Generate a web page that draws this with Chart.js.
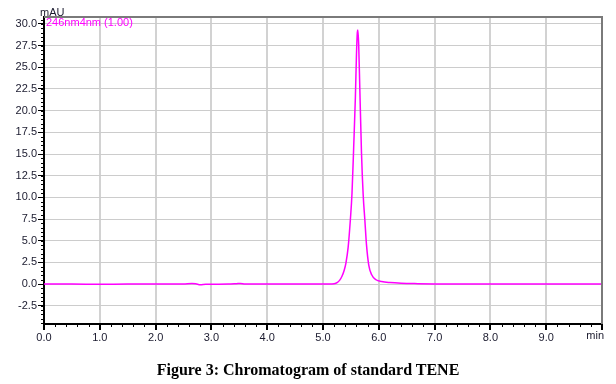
<!DOCTYPE html>
<html lang="en">
<head>
    <meta charset="UTF-8">
    <title>Chromatogram of standard TENE</title>
    <script src="https://cdn.jsdelivr.net/npm/chart.js"></script>
    <style>
        body {
            margin: 0;
            background-color: #ffffff;
            width: 616px;
            height: 384px;
            position: relative;
            overflow: hidden;
        }
        #wrap {
            position: absolute;
            left: 0;
            top: 0;
            width: 616px;
            height: 384px;
        }
        .caption {
            position: absolute;
            left: 0;
            width: 616px;
            top: 361px;
            text-align: center;
            font-family: "Liberation Serif", "Times New Roman", serif;
            font-weight: bold;
            font-size: 16px;
            color: #000;
        }
    </style>
</head>
<body>
    <div id="wrap"><canvas id="chromChart" width="616" height="384"></canvas></div>
    <div class="caption">Figure 3: Chromatogram of standard TENE</div>

    <script>
        // temps de rétention (min) et absorbance (mAU)
        const timeMin = [0, 0.5, 1.0, 1.5, 2.0, 2.5, 2.65, 2.72, 2.8, 2.9, 3.3, 3.45, 3.52, 3.6, 4.0, 4.5, 5.0,
            5.2, 5.26, 5.30, 5.34, 5.38, 5.41, 5.45, 5.49, 5.52, 5.55, 5.58, 5.60, 5.615, 5.625, 5.64, 5.66,
            5.69, 5.72, 5.75, 5.78, 5.82, 5.87, 5.95, 6.05, 6.2, 6.4, 6.7, 7.0, 8.0, 9.0, 10.0];
        const absorbance = [0, 0, -0.02, 0, 0, 0.02, 0.08, 0.04, -0.08, -0.02, 0, 0.05, 0.08, 0.02, 0, 0, 0,
            0.05, 0.2, 0.46, 0.9, 1.6, 2.4, 4.2, 7.4, 10.5, 15.8, 21.5, 26.5, 29.0, 29.3, 27.5, 22.5,
            15.1, 10.3, 7.4, 4.5, 2.2, 1.1, 0.5, 0.3, 0.18, 0.1, 0.05, 0.02, 0, 0, 0];

        const xTicks = [0, 1, 2, 3, 4, 5, 6, 7, 8, 9, 10];
        const yTicks = [-2.5, 0, 2.5, 5, 7.5, 10, 12.5, 15, 17.5, 20, 22.5, 25, 27.5, 30];
        const seriesLabel = '246nm4nm (1.00)';

        const tickFont = { family: '"Liberation Sans", Arial, sans-serif', size: 11 };

        // petits traits (graduations mineures), cadre et textes
        const framePlugin = {
            id: 'frame',
            afterDraw(chart) {
                const ctx = chart.ctx;
                const area = chart.chartArea;
                const xs = chart.scales.x;
                const ys = chart.scales.y;
                ctx.save();
                // cadre haut et droite
                ctx.strokeStyle = '#7a7a7a';
                ctx.lineWidth = 2;
                ctx.beginPath();
                ctx.moveTo(area.left, area.top);
                ctx.lineTo(area.right, area.top);
                ctx.lineTo(area.right, area.bottom);
                ctx.stroke();

                ctx.strokeStyle = '#000';
                ctx.lineWidth = 1;
                ctx.beginPath();
                for (let v = 0; v <= 10.001; v += 0.2) {
                    const px = Math.round(xs.getPixelForValue(v)) + 0.5;
                    ctx.moveTo(px, area.bottom);
                    ctx.lineTo(px, area.bottom + 3);
                }
                for (let v = -4.5; v <= 30.6; v += 0.5) {
                    const py = Math.round(ys.getPixelForValue(v)) + 0.5;
                    ctx.moveTo(area.left - 3, py);
                    ctx.lineTo(area.left, py);
                }
                ctx.stroke();

                ctx.font = '11px "Liberation Sans", Arial, sans-serif';
                ctx.fillStyle = '#1a1a2e';
                ctx.textBaseline = 'bottom';
                ctx.textAlign = 'left';
                ctx.fillText('mAU', area.left - 4, area.top + 1);

                // unité de l'axe x, alignée à droite sur le bord du tracé
                ctx.textAlign = 'right';
                ctx.textBaseline = 'top';
                ctx.fillText('min', area.right + 2, area.bottom + 6);

                ctx.fillStyle = '#ff00ff';
                ctx.textAlign = 'left';
                ctx.fillText(seriesLabel, area.left + 2, area.top);
                ctx.restore();
            }
        };

        const ctx = document.getElementById('chromChart').getContext('2d');
        new Chart(ctx, {
            type: 'line',
            data: {
                labels: timeMin,
                datasets: [{
                    label: seriesLabel,
                    data: timeMin.map((t, i) => ({ x: t, y: absorbance[i] })),
                    borderColor: '#ff00ff',
                    borderWidth: 1.5,
                    pointRadius: 0,
                    fill: false,
                    cubicInterpolationMode: 'monotone'
                }]
            },
            options: {
                responsive: false,
                animation: false,
                layout: { padding: { left: 0, right: 14, top: 17, bottom: 40 } },
                scales: {
                    x: {
                        type: 'linear',
                        min: 0,
                        max: 10,
                        afterBuildTicks: s => { s.ticks = xTicks.map(v => ({ value: v })); },
                        afterFit: s => { s.height = 20; },
                        grid: { color: '#d2d2d2', lineWidth: 2, tickColor: '#000', tickLength: 6, drawTicks: true },
                        border: { color: '#000', width: 2 },
                        ticks: {
                            font: tickFont,
                            color: '#1a1a2e',
                            padding: 1,
                            maxRotation: 0,
                            autoSkip: false,
                            callback: v => v === 10 ? '' : v.toFixed(1)
                        }
                    },
                    y: {
                        min: -4.6,
                        max: 30.8,
                        afterBuildTicks: s => { s.ticks = yTicks.map(v => ({ value: v })); },
                        afterFit: s => { s.width = 44; },
                        grid: { color: '#cccccc', lineWidth: 1, tickColor: '#000', tickLength: 6, drawTicks: true },
                        border: { color: '#000', width: 2 },
                        ticks: {
                            font: tickFont,
                            color: '#1a1a2e',
                            padding: 1,
                            autoSkip: false,
                            callback: v => v.toFixed(1)
                        }
                    }
                },
                plugins: {
                    legend: { display: false },
                    tooltip: { enabled: false }
                }
            },
            plugins: [framePlugin]
        });
    </script>
</body>
</html>
